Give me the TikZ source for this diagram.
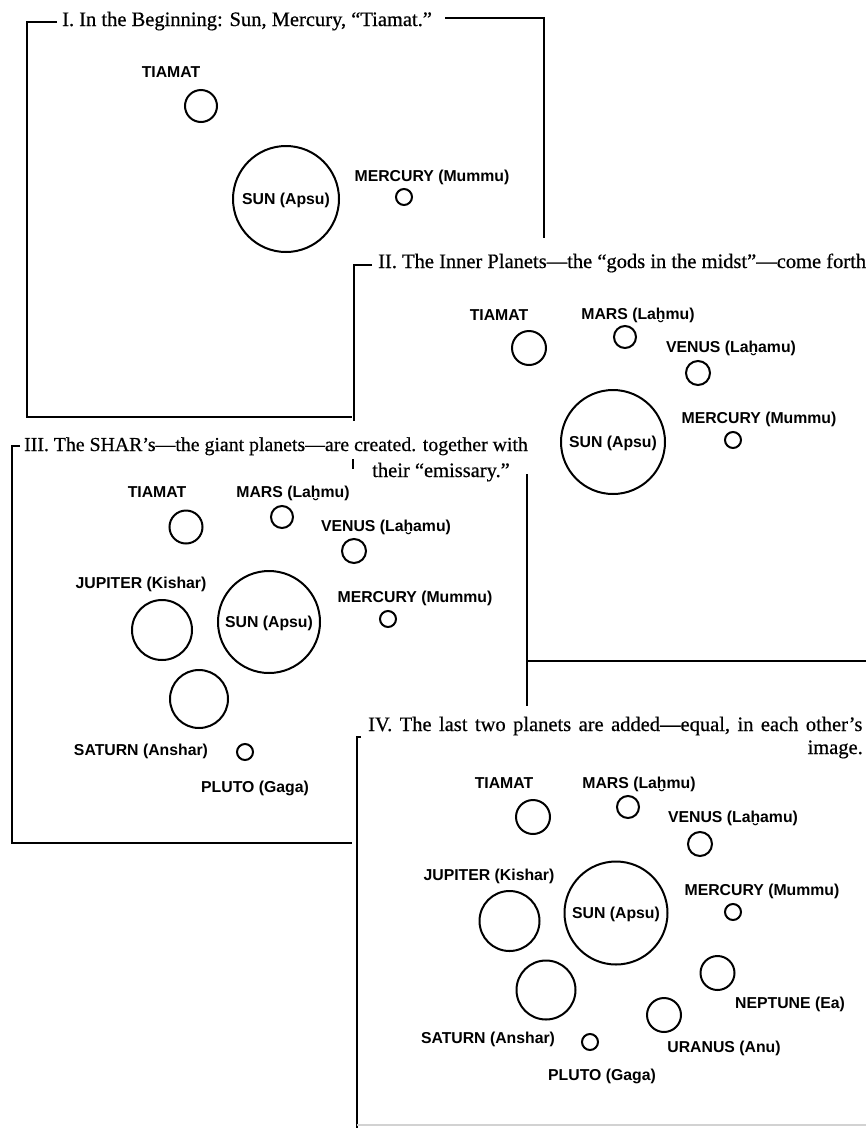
\documentclass[tikz,border=0pt]{standalone}
\usepackage{fontspec}
\setmainfont{Liberation Serif}[FakeBold=0.5]
\newfontfamily\ivfont{Liberation Serif}[FakeBold=0.5, WordSpace=1.45]
\newfontfamily\lblfont{Liberation Sans}
\begin{document}
\begin{tikzpicture}[x=1pt,y=-1pt,
  frame/.style={line width=2.4pt},
  planet/.style={circle, draw, line width=2pt, inner sep=0pt},
  lbl/.style={font=\lblfont\bfseries\fontsize{15.8}{18}\selectfont, inner sep=0pt, text height=11.5pt, text depth=0pt},
  ttl/.style={font=\fontsize{20.5}{24}\selectfont, inner sep=0pt, anchor=base west}]
\useasboundingbox[fill=white] (0,0) rectangle (866,1128);

% ---------- Panel I ----------
\node[ttl] (ti) at (62,26) {I. In the Beginning: Sun, Mercury, “Tiamat.”};
\draw[frame] (57,22) -- (27,22) -- (27,417) -- (352,417);
\draw[frame] (445,18) -- (544,18) -- (544,238);
\node[lbl] (iTl) at (171,72) {TIAMAT};
\node[planet, minimum size=32pt] (iT) at (201,106) {};
\node[planet, minimum size=106pt] (iS) at (286,199) {};
\node[lbl] (iSl) at (iS.center) {SUN (Apsu)};
\node[lbl] (iMl) at (432,176) {MERCURY (Mummu)};
\node[planet, minimum size=16pt] (iM) at (404,197) {};

% ---------- Panel II ----------
\node[ttl] (tii) at (378,268) {II. The Inner Planets—the “gods in the midst”—come forth};
\draw[frame] (372,265) -- (354,265) -- (354,421);
\draw[frame] (528,661) -- (866,661);
\node[lbl] (iiTl) at (499,315) {TIAMAT};
\node[planet, minimum size=34pt] (iiT) at (529,348) {};
\node[lbl] (iiMal) at (638,314) {MARS (Laḫmu)};
\node[planet, minimum size=22pt] (iiMa) at (625,337) {};
\node[lbl] (iiVl) at (731,347) {VENUS (Laḫamu)};
\node[planet, minimum size=24pt] (iiV) at (698,373) {};
\node[planet, minimum size=104pt] (iiS) at (613,442) {};
\node[lbl] (iiSl) at (iiS.center) {SUN (Apsu)};
\node[lbl] (iiMl) at (759,418) {MERCURY (Mummu)};
\node[planet, minimum size=16pt] (iiM) at (733,440) {};

% ---------- Panel III ----------
\node[ttl, font=\fontsize{19.8}{24}\selectfont] (tiii) at (24,451) {III. The SHAR’s—the giant planets—are created. together with};
\node[ttl, anchor=base] (tiiib) at (441,477) {their “emissary.”};
\draw[frame] (20,446) -- (12,446) -- (12,843) -- (352,843);
\draw[frame] (353,459) -- (353,469);
\draw[frame] (527,474) -- (527,706);
\node[lbl] (iiiTl) at (157,492) {TIAMAT};
\node[planet, minimum size=33pt] (iiiT) at (186,527) {};
\node[lbl] (iiiMal) at (293,492) {MARS (Laḫmu)};
\node[planet, minimum size=22pt] (iiiMa) at (282,517) {};
\node[lbl] (iiiVl) at (386,526) {VENUS (Laḫamu)};
\node[planet, minimum size=24pt] (iiiV) at (354,551) {};
\node[lbl] (iiiJl) at (141,583) {JUPITER (Kishar)};
\node[planet, minimum size=60pt] (iiiJ) at (162,630) {};
\node[planet, minimum size=102pt] (iiiS) at (269,622) {};
\node[lbl] (iiiSl) at (iiiS.center) {SUN (Apsu)};
\node[lbl] (iiiMl) at (415,597) {MERCURY (Mummu)};
\node[planet, minimum size=16pt] (iiiM) at (388,619) {};
\node[planet, minimum size=58pt] (iiiSa) at (199,699) {};
\node[lbl] (iiiSal) at (141,750) {SATURN (Anshar)};
\node[planet, minimum size=16pt] (iiiP) at (245,752) {};
\node[lbl] (iiiPl) at (255,787) {PLUTO (Gaga)};

% ---------- Panel IV ----------
\node[ttl, font=\ivfont\fontsize{20.5}{24}\selectfont] (tiv) at (368,731) {IV. The last two planets are added—equal, in each other’s};
\node[ttl, anchor=base east] (tivb) at (863,754) {image.};
\draw[frame] (361,737) -- (357,737) -- (357,1128);
\draw[gray!35, line width=1.2pt] (357,1125) -- (866,1125);
\node[lbl] (ivTl) at (504,783) {TIAMAT};
\node[planet, minimum size=34pt] (ivT) at (533,817) {};
\node[lbl] (ivMal) at (639,783) {MARS (Laḫmu)};
\node[planet, minimum size=22pt] (ivMa) at (628,807) {};
\node[lbl] (ivVl) at (733,817) {VENUS (Laḫamu)};
\node[planet, minimum size=24pt] (ivV) at (700,844) {};
\node[lbl] (ivJl) at (489,875) {JUPITER (Kishar)};
\node[planet, minimum size=60pt] (ivJ) at (509.5,921) {};
\node[planet, minimum size=103pt] (ivS) at (616,913) {};
\node[lbl] (ivSl) at (ivS.center) {SUN (Apsu)};
\node[lbl] (ivMl) at (762,890) {MERCURY (Mummu)};
\node[planet, minimum size=16pt] (ivM) at (733,912) {};
\node[planet, minimum size=59pt] (ivSa) at (546,990) {};
\node[planet, minimum size=34pt] (ivN) at (717.5,973) {};
\node[lbl] (ivNl) at (790,1003) {NEPTUNE (Ea)};
\node[planet, minimum size=34pt] (ivU) at (664,1015) {};
\node[lbl] (ivUl) at (724,1047) {URANUS (Anu)};
\node[lbl] (ivSal) at (488,1038) {SATURN (Anshar)};
\node[planet, minimum size=16pt] (ivP) at (590,1042) {};
\node[lbl] (ivPl) at (602,1075) {PLUTO (Gaga)};
\end{tikzpicture}
\end{document}
